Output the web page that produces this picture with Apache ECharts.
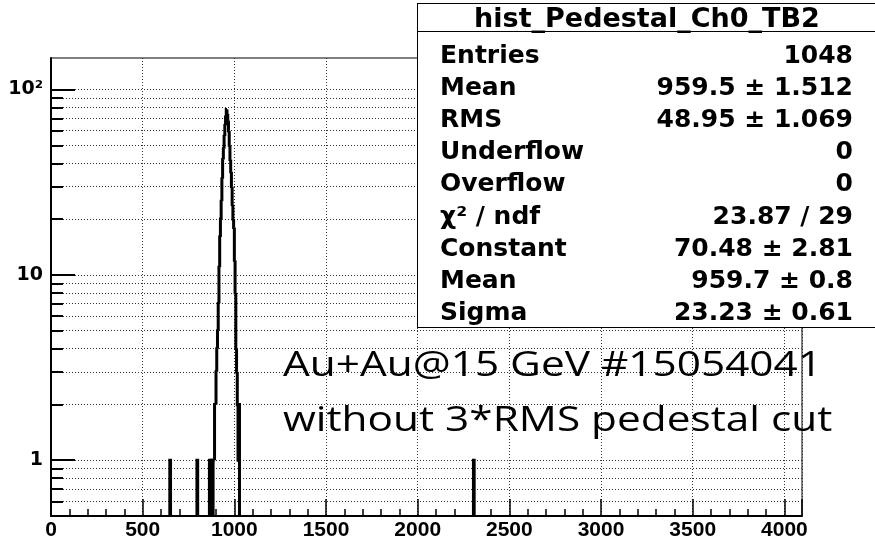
<!DOCTYPE html>
<html>
<head>
<meta charset="utf-8">
<script src="https://cdn.jsdelivr.net/npm/echarts@6/dist/echarts.min.js"></script>
<style>
  html, body { margin: 0; padding: 0; background: #fff; overflow: hidden; }
  #wrap { position: relative; width: 875px; height: 541px; overflow: hidden; }
  #chart { position: absolute; left: 0; top: 0; width: 875px; height: 541px; }
  .box { position: absolute; left: 417px; top: 3px; width: 480px; height: 325px; box-sizing: border-box;
         border: 1.5px solid #000; background: #fff; }
  .sep { position: absolute; left: 417px; top: 31px; width: 480px; height: 0; border-top: 1.5px solid #000; }
  .st { position: absolute; white-space: nowrap; font-family: "DejaVu Sans"; font-weight: bold; color: #000; }
  .note { position: absolute; left: 283px; white-space: nowrap; font-family: "Open Sans"; font-size: 35px;
          line-height: 48px; height: 48px; color: #000; transform: scaleX(1.21); transform-origin: 0 0; }
</style>
</head>
<body>
<div id="wrap">
  <div id="chart"></div>
</div>
<script>
  // histogram: lower edge of each filled bin (bin width 4) and its count
  const binWidth = 4;
  const binLow = [648, 796, 864, 876,
    884, 888, 892, 896, 900, 904, 908, 912, 916, 920, 924, 928, 932, 936, 940, 944, 948, 952,
    956, 960, 964, 968, 972, 976, 980, 984, 988, 992, 996, 1000, 1004, 1008, 1012, 1016, 1020, 1024,
    2304];
  const binCount = [1, 1, 1, 1,
    1, 1, 2, 2, 3, 4, 5, 7, 11, 16, 20, 25, 33, 42, 48, 56, 64, 71,
    78, 74, 68, 60, 50, 42, 36, 30, 24, 20, 18, 12, 8, 4, 3, 2, 1, 2,
    1];

  const xMax = 4096;
  const yMin = 0.5;
  const yMax = 148;
  const yMajor = [1, 10, 100];
  const yMinor = [0.6, 0.7, 0.8, 0.9, 1, 2, 3, 4, 5, 6, 7, 8, 9, 10, 20, 30, 40, 50, 60, 70, 80, 90, 100];

  const statTitle = 'hist_Pedestal_Ch0_TB2';
  const statLabels = ['Entries', 'Mean', 'RMS', 'Underflow', 'Overflow', 'χ² / ndf', 'Constant', 'Mean', 'Sigma'];
  const statValues = ['1048', '959.5 ± 1.512', '48.95 ± 1.069', '0', '0', '23.87 / 29', '70.48 ± 2.81', '959.7 ± 0.8', '23.23 ± 0.61'];
  const noteLines = ['Au+Au@15 GeV #15054041', 'without 3*RMS pedestal cut'];

  const chart = echarts.init(document.getElementById('chart'));

  const countAt = {};
  binLow.forEach((x, i) => { countAt[x] = binCount[i]; });

  // ROOT style outline: top of the bin, joined to neighbours or dropped to the frame bottom
  function renderBin(params, api) {
    const x = api.value(0);
    const c = api.value(1);
    const cs = params.coordSys;
    const bottom = cs.y + cs.height;
    const prev = countAt[x - binWidth];
    const next = countAt[x + binWidth];
    const left = api.coord([x, c]);
    const right = api.coord([x + binWidth, c]);
    const pts = [[left[0], prev ? api.coord([x, prev])[1] : bottom], left, right];
    if (!next) pts.push([right[0], bottom]);
    return {
      type: 'polyline',
      shape: { points: pts },
      style: { stroke: '#000', lineWidth: 3, fill: null }
    };
  }

  const option = {
    animation: false,
    grid: { left: 51, right: 73, top: 58, bottom: 24, show: true, borderColor: '#000', borderWidth: 1 },
    xAxis: {
      type: 'value', min: 0, max: xMax, interval: 500,
      axisLine: { show: true, onZero: false, lineStyle: { color: '#000', width: 2 } },
      axisTick: { show: true, inside: true, length: 17, lineStyle: { color: '#000', width: 1.5 } },
      minorTick: { show: true, splitNumber: 5, length: 7, lineStyle: { color: '#000', width: 1.5 } },
      axisLabel: {
        color: '#000', fontFamily: 'Liberation Sans', fontWeight: 'bold', fontSize: 21,
        showMaxLabel: false, margin: 4, formatter: v => String(v)
      },
      splitLine: { show: true, lineStyle: { color: '#333', width: 1, type: [1, 2] } }
    },
    yAxis: [{
      type: 'log', min: yMin, max: yMax,
      axisLine: { show: true, lineStyle: { color: '#000', width: 2 } },
      axisTick: { show: true, inside: true, length: 24, customValues: yMajor, lineStyle: { color: '#000', width: 2 } },
      axisLabel: {
        customValues: yMajor, color: '#000', fontFamily: 'DejaVu Sans', fontWeight: 'bold', fontSize: 19,
        margin: 8, formatter: v => (Math.round(v) === 100 ? '10²' : String(Math.round(v)))
      },
      splitLine: { show: false }
    }, {
      type: 'log', min: yMin, max: yMax, position: 'left',
      axisLine: { show: false },
      axisTick: { show: true, inside: true, length: 12, customValues: yMinor, lineStyle: { color: '#000', width: 2 } },
      axisLabel: { show: false },
      splitLine: { show: true, lineStyle: { color: '#333', width: 1, type: [1, 2] } }
    }],
    series: [{
      type: 'custom',
      xAxisIndex: 0,
      yAxisIndex: 0,
      renderItem: renderBin,
      data: binLow.map((x, i) => [x, binCount[i]]),
      z: 5
    }]
  };
  chart.setOption(option);

  // statistics box and run note, as real text over the chart
  const wrap = document.getElementById('wrap');
  function addEl(cls, css, text) {
    const d = document.createElement('div');
    d.className = cls;
    d.style.cssText = css;
    if (text != null) d.textContent = text;
    wrap.appendChild(d);
    return d;
  }
  noteLines.forEach((t, i) => addEl('note', 'top:' + (339 + 55 * i) + 'px;', t));
  addEl('box', '');
  addEl('sep', '');
  addEl('st', 'left:417px;top:3px;width:460px;text-align:center;font-size:27px;line-height:30px;height:30px;', statTitle);
  statLabels.forEach((lab, i) => {
    const top = 54 + 32.2 * i - 15.5;
    addEl('st', 'left:440px;top:' + top + 'px;font-size:25px;line-height:32px;height:32px;', lab);
    addEl('st', 'right:22px;top:' + top + 'px;font-size:25px;line-height:32px;height:32px;text-align:right;', statValues[i]);
  });
</script>
</body>
</html>
